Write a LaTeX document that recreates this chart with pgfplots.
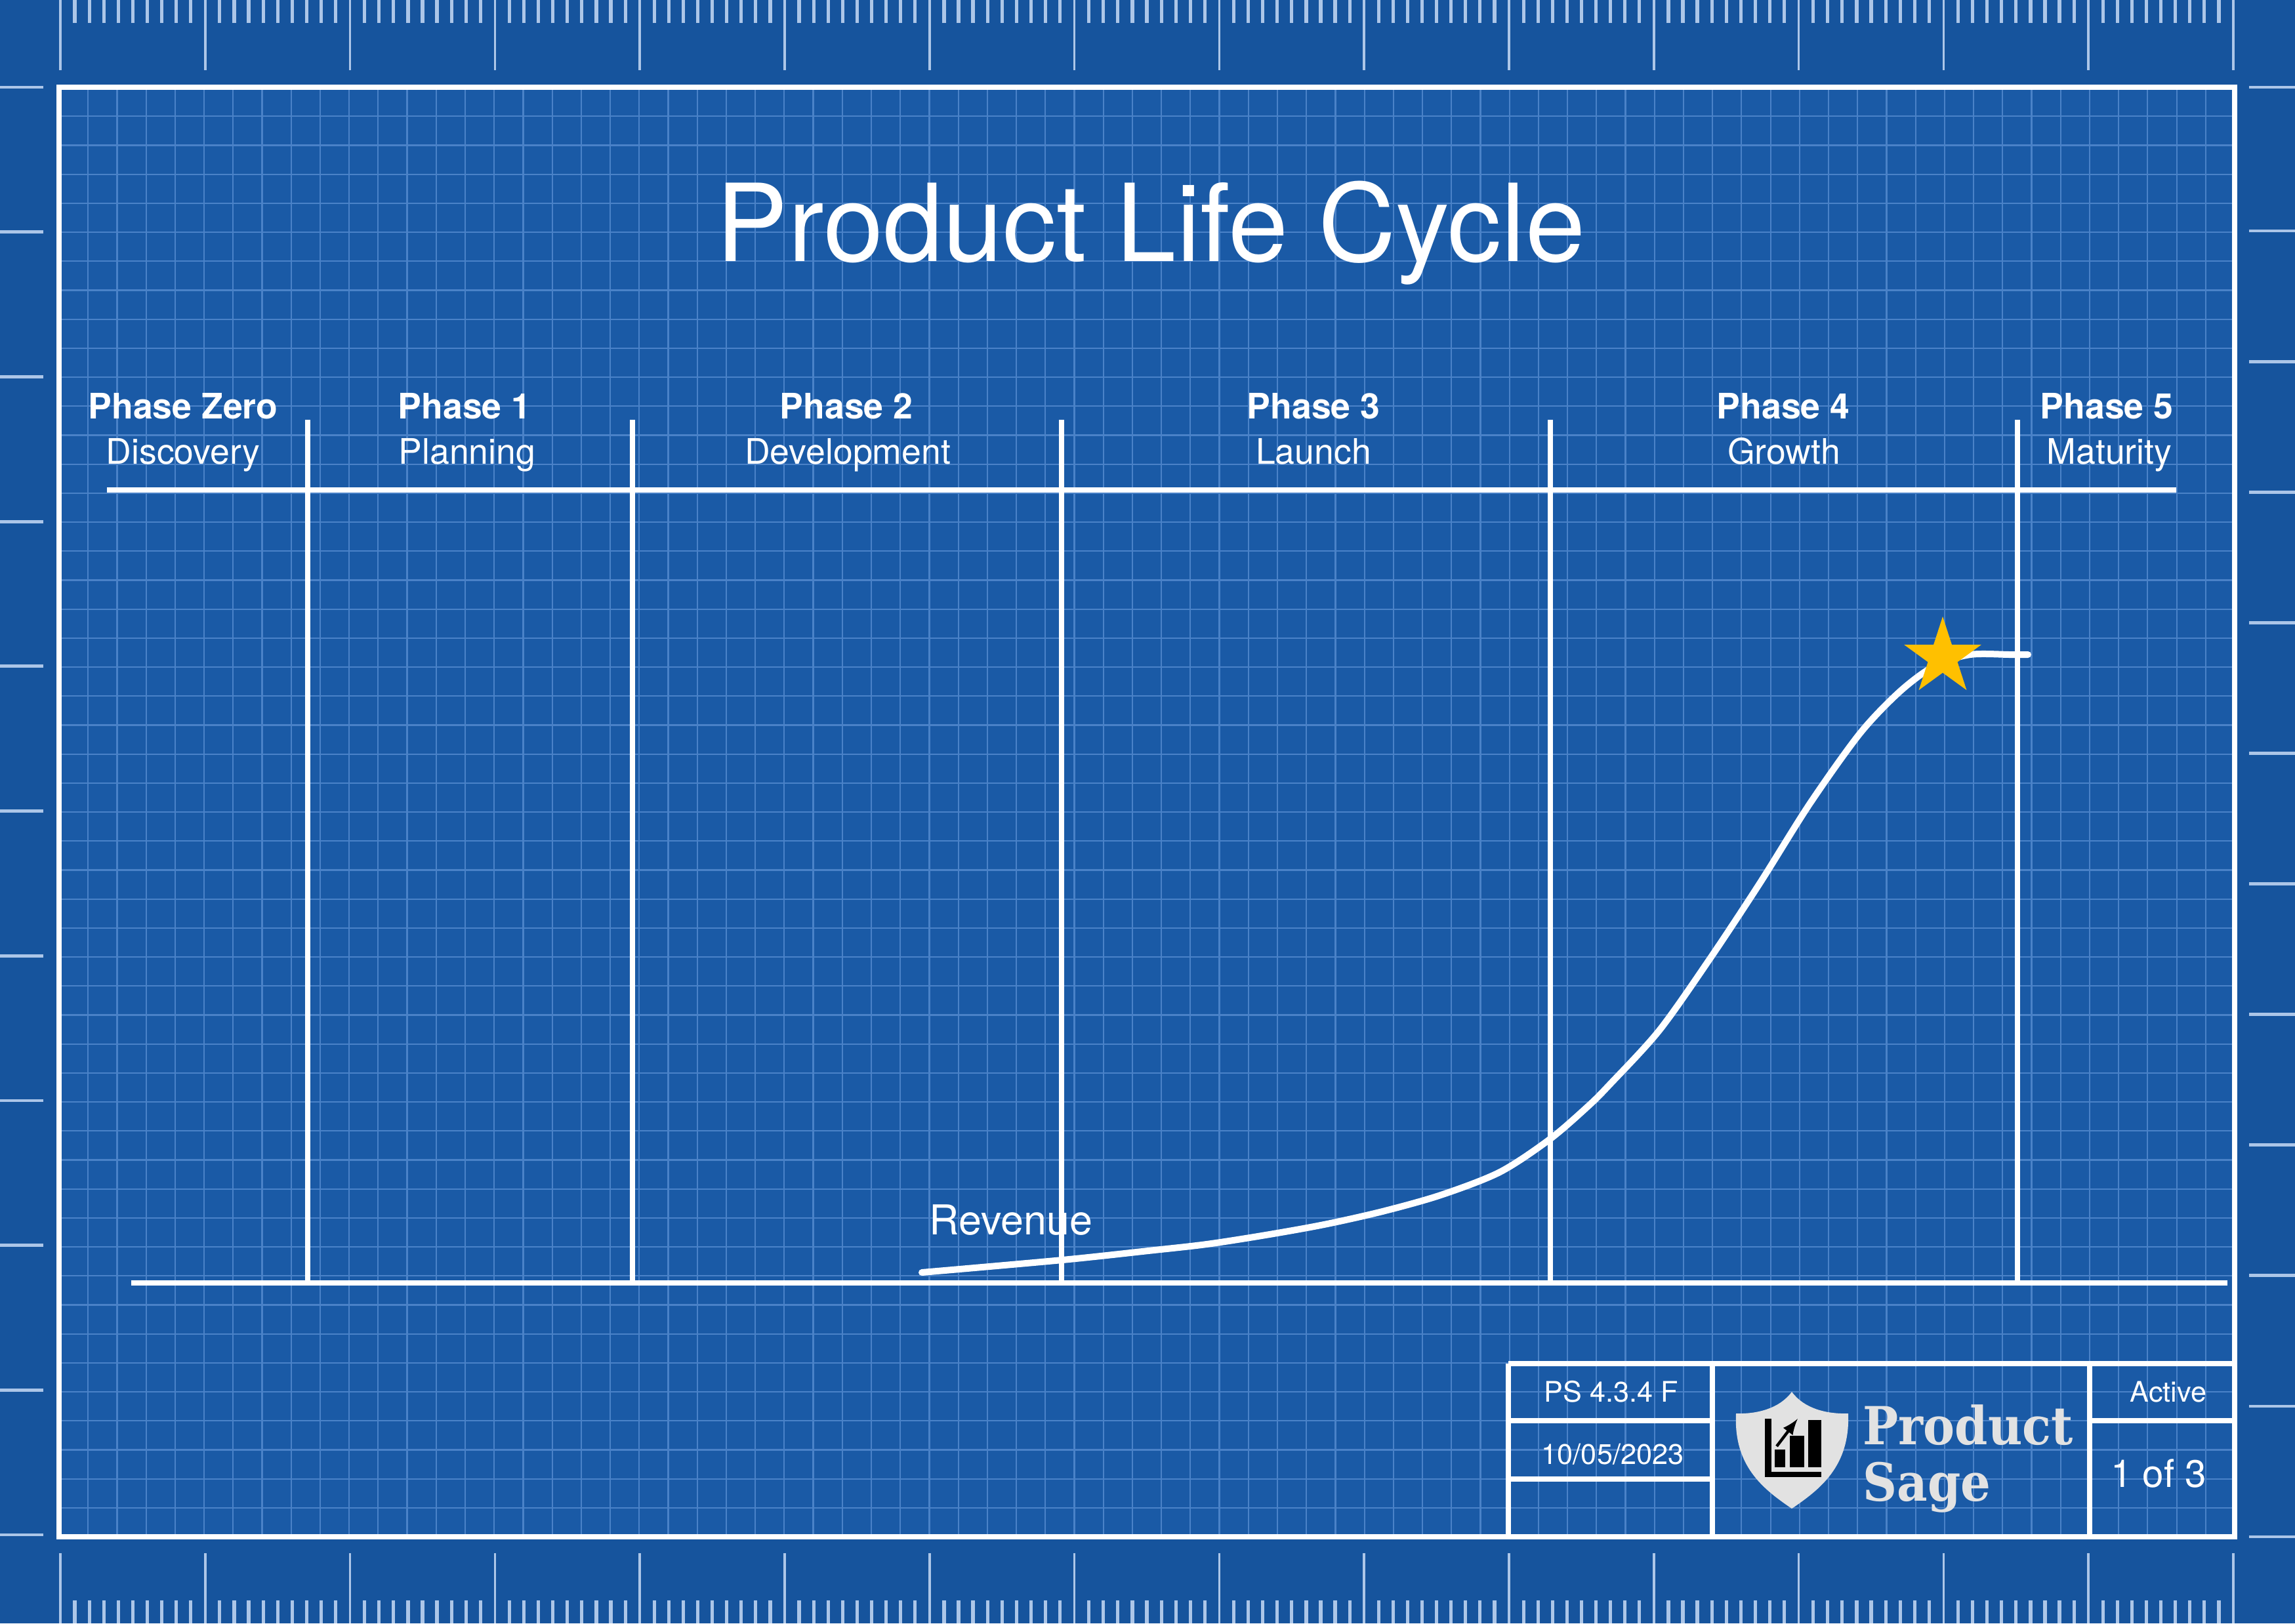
\documentclass[border=0pt]{standalone}
\usepackage{pgfplots}
\pgfplotsset{compat=1.18}
\usepackage{fontspec}
\setmainfont{TeX Gyre Heros}
\newfontfamily\slab{DejaVu Serif}
\usepackage{graphicx}
\definecolor{bgout}{RGB}{22,84,157}
\definecolor{bgin}{RGB}{26,90,166}
\definecolor{gridc}{RGB}{74,130,200}
\definecolor{rulerc}{RGB}{172,198,232}
\definecolor{gold}{RGB}{255,192,0}
\definecolor{logog}{RGB}{226,226,226}

\pgfdeclareplotmark{fstar}{%
 \pgfpathmoveto{\pgfpointpolar{90}{\pgfplotmarksize}}%
 \pgfpathlineto{\pgfpointpolar{126}{0.382\pgfplotmarksize}}%
 \pgfpathlineto{\pgfpointpolar{162}{\pgfplotmarksize}}%
 \pgfpathlineto{\pgfpointpolar{198}{0.382\pgfplotmarksize}}%
 \pgfpathlineto{\pgfpointpolar{234}{\pgfplotmarksize}}%
 \pgfpathlineto{\pgfpointpolar{270}{0.382\pgfplotmarksize}}%
 \pgfpathlineto{\pgfpointpolar{306}{\pgfplotmarksize}}%
 \pgfpathlineto{\pgfpointpolar{342}{0.382\pgfplotmarksize}}%
 \pgfpathlineto{\pgfpointpolar{18}{\pgfplotmarksize}}%
 \pgfpathlineto{\pgfpointpolar{54}{0.382\pgfplotmarksize}}%
 \pgfpathclose
 \pgfusepathqfill
}

\begin{document}
\begin{tikzpicture}
\begin{axis}[scale only axis, width=874.5pt, height=618.75pt,
  xmin=0, xmax=3498, ymin=0, ymax=2475, y dir=reverse, hide axis]

% background
\fill[bgout] (axis cs:0,0) rectangle (axis cs:3498,2475);
\fill[bgin] (axis cs:90,133) rectangle (axis cs:3406,2343);

% grid
\foreach \k in {1,...,74}{%
  \pgfmathsetmacro\gx{90+44.213*\k}%
  \edef\temp{\noexpand\draw[gridc, line width=0.55pt] (axis cs:\gx,133) -- (axis cs:\gx,2343);}%
  \temp
}
\foreach \k in {1,...,49}{%
  \pgfmathsetmacro\gy{133+44.2*\k}%
  \edef\temp{\noexpand\draw[gridc, line width=0.55pt] (axis cs:90,\gy) -- (axis cs:3406,\gy);}%
  \temp
}

% rulers top and bottom
\foreach \k in {0,...,150}{%
  \pgfmathsetmacro\tx{92+22.08*\k}%
  \pgfmathtruncatemacro\m{mod(\k,10)}%
  \ifnum\m=0
    \edef\temp{\noexpand\draw[rulerc, line width=0.9pt] (axis cs:\tx,0) -- (axis cs:\tx,107);
      \noexpand\draw[rulerc, line width=0.9pt] (axis cs:\tx,2368) -- (axis cs:\tx,2475);}%
  \else
    \edef\temp{\noexpand\draw[rulerc, line width=1.3pt] (axis cs:\tx,0) -- (axis cs:\tx,35);
      \noexpand\draw[rulerc, line width=1.3pt] (axis cs:\tx,2440) -- (axis cs:\tx,2475);}%
  \fi
  \temp
}
% side ticks
\foreach \k in {0,...,10}{%
  \pgfmathsetmacro\ly{133+220.7*\k}%
  \pgfmathsetmacro\ry{352+199.1*\k}%
  \edef\temp{\noexpand\draw[rulerc, line width=1.2pt] (axis cs:0,\ly) -- (axis cs:66,\ly);
    \noexpand\draw[rulerc, line width=1.2pt] (axis cs:3428,\ry) -- (axis cs:3498,\ry);}%
  \temp
}
\draw[rulerc, line width=1.2pt] (axis cs:3428,133) -- (axis cs:3498,133);

% frame
\draw[white, line width=1.8pt] (axis cs:90,133) rectangle (axis cs:3406,2343);

% title
\node[anchor=base, text=white, inner sep=0pt, font=\fontsize{41}{48}\selectfont]
  at (axis cs:1754,398) {Product Life Cycle};

% phase structure
\draw[white, line width=1.9pt] (axis cs:163,747) -- (axis cs:3317,747);
\draw[white, line width=1.9pt] (axis cs:200,1956) -- (axis cs:3395,1956);
\foreach \px in {469,964,1618,2363,3075}{%
  \edef\temp{\noexpand\draw[white, line width=1.8pt] (axis cs:\px,640) -- (axis cs:\px,1956);}%
  \temp
}

% phase labels
\tikzset{ph/.style={anchor=base, text=white, inner sep=0pt, font=\fontsize{13.4}{16}\selectfont\bfseries},
         pn/.style={anchor=base, text=white, inner sep=0pt, font=\fontsize{13.4}{16}\selectfont}}
\node[ph] at (axis cs:279,638) {Phase Zero};
\node[pn] at (axis cs:279,707) {Discovery};
\node[ph] at (axis cs:708,638) {Phase 1};
\node[pn] at (axis cs:712,707) {Planning};
\node[ph] at (axis cs:1290,638) {Phase 2};
\node[pn] at (axis cs:1292,707) {Development};
\node[ph] at (axis cs:2002,638) {Phase 3};
\node[pn] at (axis cs:2002,707) {Launch};
\node[ph] at (axis cs:2718,638) {Phase 4};
\node[pn] at (axis cs:2719,707) {Growth};
\node[ph] at (axis cs:3211,638) {Phase 5};
\node[pn] at (axis cs:3215,707) {Maturity};

% revenue curve
\addplot[white, line width=2.5pt, smooth, line cap=round] coordinates {
 (1405,1940) (1619,1921) (1750,1907) (1839,1897) (1929,1883) (2018,1867)
 (2107,1847) (2196,1822) (2286,1787) (2362,1737) (2420,1687) (2453,1654)
 (2529,1571) (2606,1462) (2682,1347) (2758,1226) (2835,1118) (2896,1054)
 (2949,1015) (3003,998) (3064,998) (3091,998)
};
\addplot[only marks, mark=fstar, mark size=15.5pt, color=gold, mark options={fill=gold, draw=none}]
 coordinates {(2961,1002)};
\node[anchor=base west, text=white, inner sep=0pt, font=\fontsize{15.7}{19}\selectfont]
  at (axis cs:1416,1882) {Revenue};

% title block
\draw[white, line width=1.8pt] (axis cs:2299,2079) -- (axis cs:3406,2079);
\draw[white, line width=1.8pt] (axis cs:2299,2079) -- (axis cs:2299,2343);
\draw[white, line width=1.8pt] (axis cs:2610,2079) -- (axis cs:2610,2343);
\draw[white, line width=1.8pt] (axis cs:3185,2079) -- (axis cs:3185,2343);
\draw[white, line width=1.8pt] (axis cs:2299,2166) -- (axis cs:2610,2166);
\draw[white, line width=1.8pt] (axis cs:2299,2255) -- (axis cs:2610,2255);
\draw[white, line width=1.8pt] (axis cs:3185,2166) -- (axis cs:3406,2166);

\node[anchor=base, text=white, inner sep=0pt, font=\fontsize{10.8}{13}\selectfont]
  at (axis cs:2456,2137) {PS 4.3.4 F};
\node[anchor=base, text=white, inner sep=0pt, font=\fontsize{10.8}{13}\selectfont]
  at (axis cs:2458,2232) {10/05/2023};
\node[anchor=base east, text=white, inner sep=0pt, font=\fontsize{10.8}{13}\selectfont]
  at (axis cs:3364,2137) {Active};
\node[anchor=base east, text=white, inner sep=0pt, font=\fontsize{14.6}{17}\selectfont]
  at (axis cs:3364,2267) {1 of 3};

% logo shield
\fill[logog] (axis cs:2731,2122) .. controls (axis cs:2750,2148) and (axis cs:2785,2156) .. (axis cs:2817,2155)
  .. controls (axis cs:2820,2235) and (axis cs:2775,2270) .. (axis cs:2731,2300)
  .. controls (axis cs:2687,2270) and (axis cs:2642,2235) .. (axis cs:2646,2155)
  .. controls (axis cs:2677,2156) and (axis cs:2712,2148) .. (axis cs:2731,2122) -- cycle;
\fill[black] (axis cs:2690,2163) rectangle (axis cs:2700,2252);
\fill[black] (axis cs:2690,2244) rectangle (axis cs:2776,2252);
\fill[black] (axis cs:2705,2210) rectangle (axis cs:2721,2237);
\fill[black] (axis cs:2728,2189) rectangle (axis cs:2750,2237);
\fill[black] (axis cs:2756,2165) rectangle (axis cs:2776,2237);
\draw[black, line width=1.1pt, -latex] (axis cs:2708,2205) -- (axis cs:2740,2163);

\node[anchor=base west, text=logog, inner sep=0pt, font=\fontsize{20}{24}\selectfont\slab\bfseries]
  at (axis cs:2839,2202) {\scalebox{0.9}[1]{Product}};
\node[anchor=base west, text=logog, inner sep=0pt, font=\fontsize{20}{24}\selectfont\slab\bfseries]
  at (axis cs:2839,2288) {\scalebox{0.9}[1]{Sage}};

\end{axis}
\end{tikzpicture}
\end{document}
